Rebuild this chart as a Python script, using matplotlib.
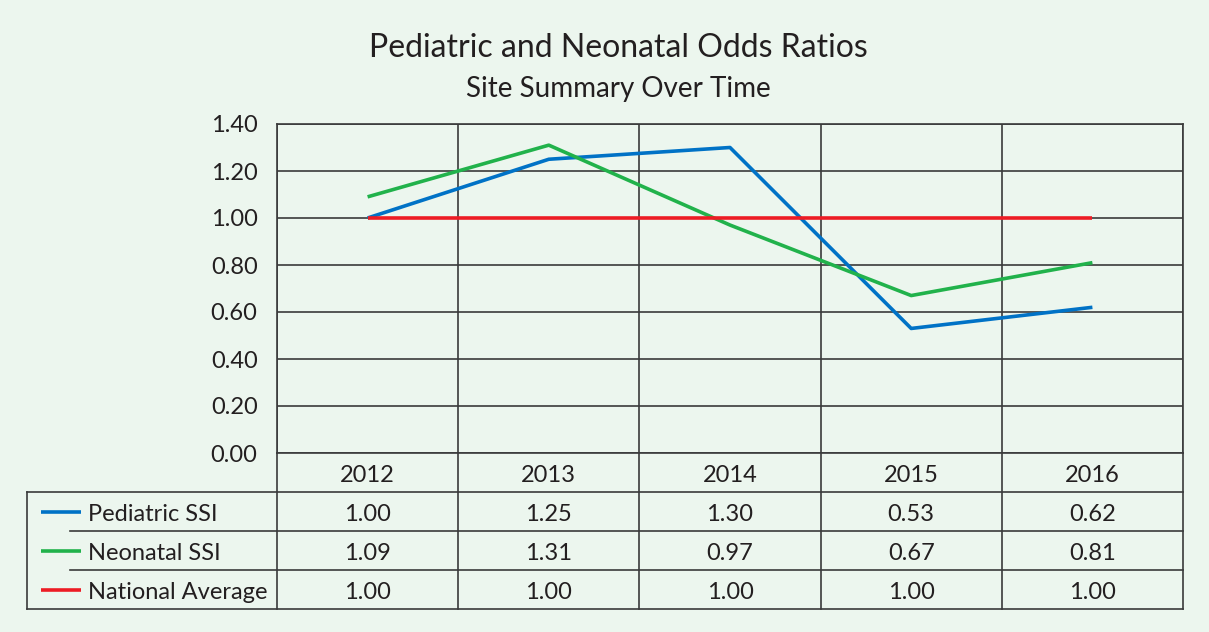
import numpy as np
import matplotlib
matplotlib.use('Agg')
import matplotlib.pyplot as plt

# data
years = ['2012', '2013', '2014', '2015', '2016']
pediatric = [1.00, 1.25, 1.30, 0.53, 0.62]
neonatal = [1.09, 1.31, 0.97, 0.67, 0.81]
national = [1.00, 1.00, 1.00, 1.00, 1.00]
series_names = ['Pediatric SSI', 'Neonatal SSI', 'National Average']
series_colors = ['#0072c6', '#21b24b', '#ed1c24']
yticks = [0.0, 0.2, 0.4, 0.6, 0.8, 1.0, 1.2, 1.4]

plt.rcParams['font.family'] = ['Lato', 'DejaVu Sans']
bg = '#ecf6ee'
txt = '#231f20'
grid_c = '#3a3a3a'

W, H = 1209, 632
fig = plt.figure(figsize=(W / 100, H / 100), dpi=100)
fig.patch.set_facecolor(bg)

def px_box(x0, y0, x1, y1):
    return [x0 / W, 1 - y1 / H, (x1 - x0) / W, (y1 - y0) / H]

# main plot area
ax = fig.add_axes(px_box(277, 124, 1183, 453))
ax.set_facecolor(bg)
n = len(years)
x = np.arange(n)
ax.set_xlim(-0.5, n - 0.5)
ax.set_ylim(0, 1.4)
ax.set_yticks(yticks)
ax.set_yticklabels([f'{v:.2f}' for v in yticks], fontsize=17, color=txt)
ax.tick_params(axis='y', length=0, pad=14)
ax.set_xticks([])
ax.grid(False)
for v in yticks:
    ax.axhline(v, color=grid_c, lw=1.2, zorder=1)
for b in np.arange(n + 1) - 0.5:
    ax.axvline(b, color=grid_c, lw=1.2, zorder=1)
for s in ax.spines.values():
    s.set_color(grid_c)
    s.set_linewidth(1.2)

all_series = [pediatric, neonatal, national]
for vals, c in zip(all_series, series_colors):
    ax.plot(x, vals, color=c, lw=2.6, solid_capstyle='butt', zorder=3)

# table below the plot
unit = (1183 - 277) / n  # pixels per category
left_units = (277 - 27) / unit
tab = fig.add_axes(px_box(27, 453, 1183, 609))
tab.set_xlim(-0.5 - left_units, n - 0.5)
tab.set_ylim(4, 0)
tab.axis('off')
tab.patch.set_alpha(0)

lc = dict(color=grid_c, lw=1.2, clip_on=False)
# vertical lines
for b in np.arange(n + 1) - 0.5:
    tab.plot([b, b], [0, 4], **lc)
tab.plot([-0.5 - left_units] * 2, [1, 4], **lc)
# horizontal lines
tab.plot([-0.5 - left_units, n - 0.5], [1, 1], **lc)
tab.plot([-0.5 - left_units, n - 0.5], [4, 4], **lc)
inner_start = -0.5 - left_units + 43 / unit
for r in [2, 3]:
    tab.plot([inner_start, n - 0.5], [r, r], **lc)

off = 0.07
for i, yr in enumerate(years):
    tab.text(i, 0.5 + off, yr, ha='center', va='center', fontsize=17, color=txt)
for r, (vals, name, c) in enumerate(zip(all_series, series_names, series_colors), start=1):
    for i, v in enumerate(vals):
        tab.text(i, r + 0.5 + off, f'{v:.2f}', ha='center', va='center', fontsize=17, color=txt)
    x0 = -0.5 - left_units + 14 / unit
    x1 = x0 + 40 / unit
    tab.plot([x0, x1], [r + 0.5, r + 0.5], color=c, lw=2.6, solid_capstyle='butt', clip_on=False)
    tab.text(x1 + 7 / unit, r + 0.5 + off, name, ha='left', va='center',
             fontsize=17, color=txt)

fig.text(618 / W, 1 - 48 / H, 'Pediatric and Neonatal Odds Ratios', ha='center', va='center',
         fontsize=23, color=txt)
fig.text(618 / W, 1 - 89 / H, 'Site Summary Over Time', ha='center', va='center',
         fontsize=20, color=txt)

fig.savefig('out.png', dpi=100, facecolor=bg)
